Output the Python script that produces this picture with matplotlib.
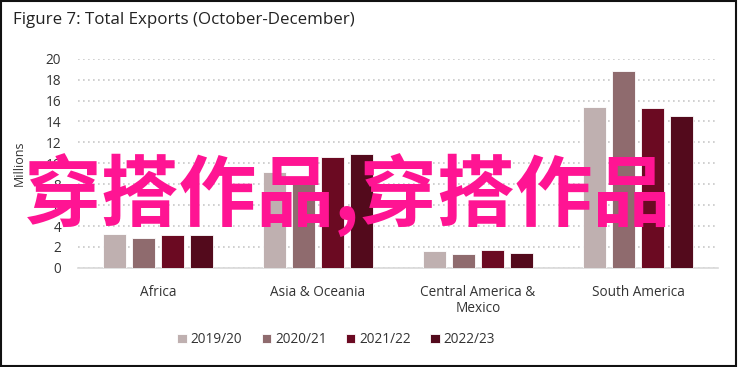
import matplotlib.pyplot as plt
import numpy as np
from matplotlib.patches import Rectangle

regions = ["Africa", "Asia & Oceania", "Central America &\nMexico", "South America"]
seasons = ["2019/20", "2020/21", "2021/22", "2022/23"]
exports = {
    "2019/20": [3.2, 9.2, 1.6, 15.4],
    "2020/21": [2.9, 8.6, 1.3, 18.8],
    "2021/22": [3.1, 10.6, 1.7, 15.3],
    "2022/23": [3.1, 10.9, 1.4, 14.5],
}
colors = ["#BFB0B0", "#8F6B6E", "#6B0A22", "#530A1C"]

plt.rcParams['font.family'] = ['Open Sans', 'DejaVu Sans']

fig = plt.figure(figsize=(7.39, 3.67), dpi=100)
ax = fig.add_axes([0.1055, 0.27, 0.866, 0.57])

x = np.arange(len(regions))
pitch = 0.18
width = 0.145
for i, s in enumerate(seasons):
    ax.bar(x + (i - 1.5) * pitch, exports[s], width, color=colors[i], label=s,
           edgecolor="white", linewidth=0.6, zorder=3)

ax.set_xlim(-0.5, 3.5)
ax.set_ylim(0, 20)
ax.set_yticks(range(0, 21, 2))
ax.set_xticks(x)
ax.set_xticklabels(regions, fontsize=9.8, color="#333333", linespacing=1.1)
ax.tick_params(axis="y", labelsize=9.8, colors="#333333", length=0, pad=12)
ax.tick_params(axis="x", length=0, pad=12)
ax.grid(axis="y", color="#C8C8C8", linestyle=(0, (1, 2)), linewidth=1.2, zorder=0)
for side in ["top", "right", "left"]:
    ax.spines[side].set_visible(False)
ax.spines["bottom"].set_color("#D9D9D9")
ax.spines["bottom"].set_linewidth(1.2)
ax.set_ylabel("Millions", fontsize=9, color="#333333", labelpad=14)

fig.text(0.018, 0.945, "Figure 7: Total Exports (October-December)", fontsize=12.2,
         color="#222222", va="center", ha="left")

fig.legend(loc="lower center", bbox_to_anchor=(0.455, 0.02), ncol=4, frameon=False,
           fontsize=9.8, handlelength=0.7, handleheight=0.7, columnspacing=1.4,
           handletextpad=0.3, labelcolor="#333333")

fig.text(0.47, 0.465, "穿搭作品,穿搭作品", fontsize=56, fontweight="bold",
         color="#FF1493", ha="center", va="center",
         family=["Noto Sans CJK SC", "DejaVu Sans"], zorder=10)

fig.patches.append(Rectangle((0.002, 0.003), 0.994, 0.994, transform=fig.transFigure,
                             fill=False, edgecolor="#111111", linewidth=1.5))

fig.savefig("out.png", dpi=100)
